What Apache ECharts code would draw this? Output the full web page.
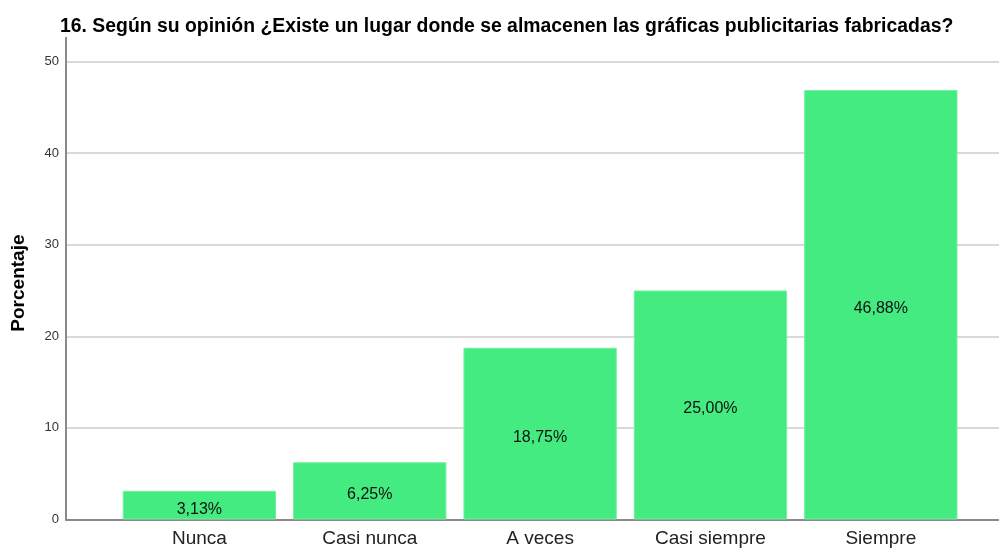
<!DOCTYPE html>
<html>
<head>
<meta charset="utf-8">
<title>Porcentaje</title>
<script src="https://cdn.jsdelivr.net/npm/echarts@6/dist/echarts.min.js"></script>
<style>
  html, body { margin: 0; padding: 0; background: #fff; }
  #chart { width: 999px; height: 550px; }
</style>
</head>
<body>
<div id="chart"></div>
<script>
var categories = ['Nunca', 'Casi nunca', 'A veces', 'Casi siempre', 'Siempre'];
var percentages = [3.13, 6.25, 18.75, 25.00, 46.88];
var yMin = 0;
var yMax = 52.6;
var yStep = 10;

var FONT = '"Liberation Sans", Arial, sans-serif';

(function () {
  var myChart = echarts.init(document.getElementById('chart'), null, { renderer: 'canvas' });

  var option = {
    animation: false,
    backgroundColor: '#ffffff',
    title: {
      text: '16. Según su opinión ¿Existe un lugar donde se almacenen las gráficas publicitarias fabricadas?',
      left: 55,
      top: 12,
      textStyle: { fontFamily: FONT, fontSize: 19.4, fontWeight: 'bold', color: '#000' }
    },
    // grid 0: frame (axis lines + gridlines), grid 1: bars with SPSS-style padding
    grid: [
      { left: 66, right: 0, top: 37.7, bottom: 30.5 },
      { left: 114.2, right: 33, top: 37.7, bottom: 30.5 }
    ],
    xAxis: [
      {
        gridIndex: 0,
        type: 'value',
        min: 0,
        max: 1,
        axisLine: { show: true, lineStyle: { color: '#8a8a8a', width: 2 } },
        axisTick: { show: false },
        axisLabel: { show: false },
        splitLine: { show: false }
      },
      {
        gridIndex: 1,
        type: 'category',
        data: categories,
        axisLine: { show: false },
        axisTick: { show: false },
        axisLabel: { fontFamily: FONT, fontSize: 19, color: '#222', margin: 10 }
      }
    ],
    yAxis: [
      {
        gridIndex: 0,
        type: 'value',
        min: yMin,
        max: yMax,
        interval: yStep,
        name: 'Porcentaje',
        nameLocation: 'middle',
        nameGap: 38,
        nameTextStyle: { fontFamily: FONT, fontSize: 19, fontWeight: 'bold', color: '#000', padding: [0, 0, 0, -9] },
        axisLine: { show: true, lineStyle: { color: '#8a8a8a', width: 2 } },
        axisTick: { show: false },
        axisLabel: { fontFamily: FONT, fontSize: 13, color: '#333', margin: 7, showMaxLabel: false },
        splitLine: { show: true, showMinLine: false, showMaxLine: false, lineStyle: { color: '#d9d9d9', width: 2 } }
      },
      {
        gridIndex: 1,
        type: 'value',
        min: yMin,
        max: yMax,
        show: false
      }
    ],
    series: [
      {
        name: 'Porcentaje',
        type: 'bar',
        xAxisIndex: 1,
        yAxisIndex: 1,
        data: percentages,
        barCategoryGap: '10%',
        itemStyle: { color: '#44eb80', borderColor: '#72f09e', borderWidth: 1 },
        label: {
          show: true,
          position: 'inside',
          offset: [0, 4],
          fontFamily: FONT,
          fontSize: 16,
          color: '#111',
          formatter: function (p) {
            return p.value.toFixed(2).replace('.', ',') + '%';
          }
        }
      }
    ]
  };

  myChart.setOption(option);
})();
</script>
</body>
</html>
